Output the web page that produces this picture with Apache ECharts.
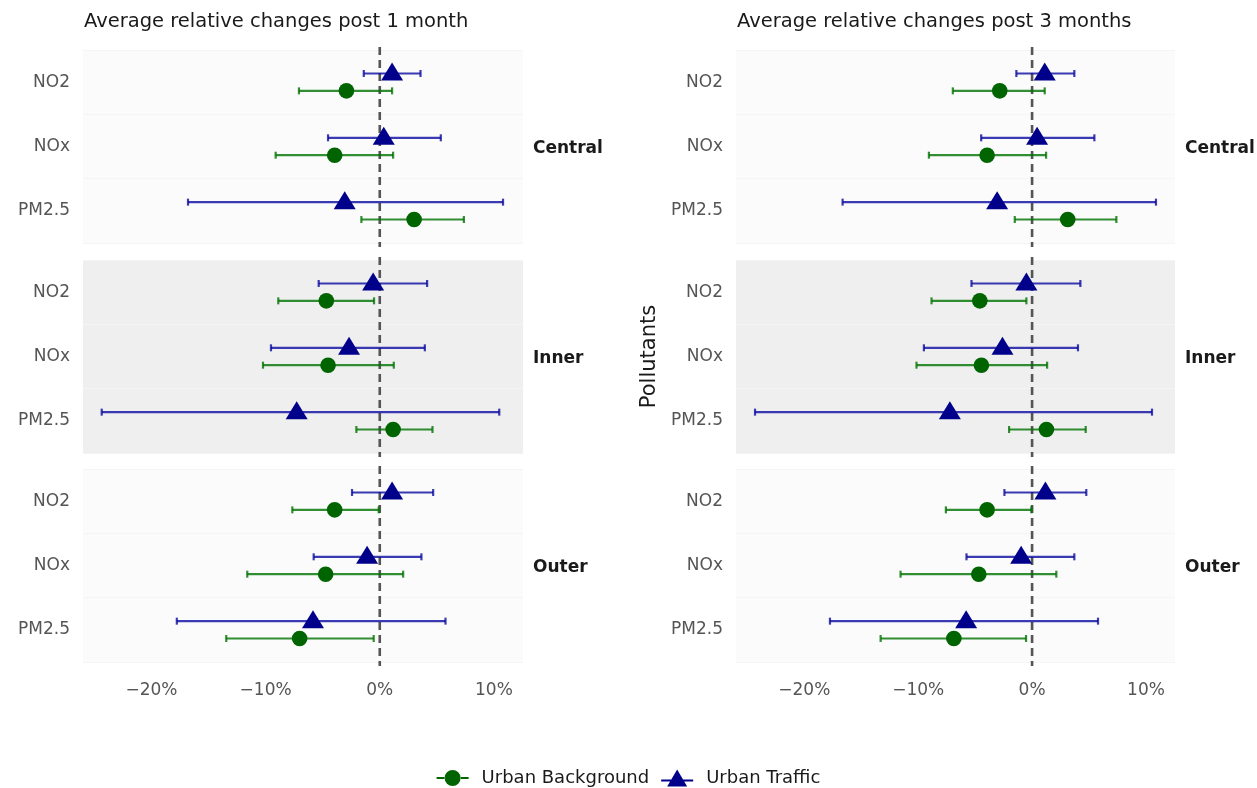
<!DOCTYPE html>
<html>
<head>
<meta charset="utf-8">
<script src="https://cdn.jsdelivr.net/npm/echarts@6/dist/echarts.min.js"></script>
<style>
html,body{margin:0;padding:0;background:#fff;}
#chart{width:1257px;height:788px;}
</style>
</head>
<body>
<div id="chart"></div>
<script>
// ---- Data ----
const pollutants = ['NO2', 'NOx', 'PM2.5'];
const regions = ['Central', 'Inner', 'Outer'];
const panelTitles = ['Average relative changes post 1 month', 'Average relative changes post 3 months'];
const tickValues = [-20, -10, 0, 10];
const refValue = [0];

// 1 month, order: Central(NO2,NOx,PM2.5), Inner(...), Outer(...)
const m1BgEst  = [-2.92, -3.95, 3.01,   -4.68, -4.53, 1.17,   -3.95, -4.74, -7.02];
const m1BgLow  = [-7.08, -9.12, -1.61,  -8.89, -10.23, -2.05, -7.66, -11.61, -13.45];
const m1BgHigh = [1.08, 1.17, 7.37,     -0.50, 1.23, 4.62,    -0.09, 2.05, -0.53];
const m1TrEst  = [1.08, 0.35, -3.07,    -0.58, -2.69, -7.28,  1.08, -1.11, -5.85];
const m1TrLow  = [-1.40, -4.53, -16.80, -5.35, -9.53, -24.36, -2.43, -5.79, -17.78];
const m1TrHigh = [3.57, 5.35, 10.80,    4.15, 3.95, 10.47,    4.68, 3.65, 5.76];

// 3 months
const m3BgEst  = [-2.84, -3.95, 3.13,   -4.59, -4.45, 1.26,   -3.95, -4.68, -6.87];
const m3BgLow  = [-6.96, -9.06, -1.52,  -8.83, -10.15, -2.02, -7.57, -11.55, -13.30];
const m3BgHigh = [1.11, 1.23, 7.40,     -0.50, 1.32, 4.71,    -0.06, 2.13, -0.53];
const m3TrEst  = [1.11, 0.44, -3.07,    -0.50, -2.60, -7.22,  1.17, -0.96, -5.79];
const m3TrLow  = [-1.38, -4.47, -16.64, -5.32, -9.50, -24.33, -2.43, -5.76, -17.75];
const m3TrHigh = [3.71, 5.47, 10.88,    4.24, 4.03, 10.53,    4.76, 3.71, 5.79];

const panels = [
  {bg: [m1BgEst, m1BgLow, m1BgHigh], tr: [m1TrEst, m1TrLow, m1TrHigh]},
  {bg: [m3BgEst, m3BgLow, m3BgHigh], tr: [m3TrEst, m3TrLow, m3TrHigh]}
];

// ---- Layout / style ----
const FONT = 'DejaVu Sans, Liberation Sans, sans-serif';
const GREEN = '#006400', GREEN_BAR = 'rgba(0,115,0,0.8)';
const NAVY = '#00008B', NAVY_BAR = 'rgba(10,10,160,0.8)';
const gridLeft = [83, 736], gridWidth = [440, 439];
const gridTop = [50, 260, 469], gridHeight = 193;
const facetBg = ['#fbfbfb', '#efefef', '#fbfbfb'];

function makeRender(kind) {
  const off = kind === 'tr' ? -0.135 : 0.135;
  return function (params, api) {
    const c = api.value(3);
    const band = api.size([0, 1])[1];
    const dy = off * band;
    const lo = api.coord([api.value(0), c]);
    const hi = api.coord([api.value(1), c]);
    const pt = api.coord([api.value(2), c]);
    const y = lo[1] + dy;
    const barColor = kind === 'tr' ? NAVY_BAR : GREEN_BAR;
    const col = kind === 'tr' ? NAVY : GREEN;
    const ls = {stroke: barColor, lineWidth: 2.2};
    const children = [
      {type: 'line', shape: {x1: lo[0], y1: y, x2: hi[0], y2: y}, style: ls},
      {type: 'line', shape: {x1: lo[0], y1: y - 3.5, x2: lo[0], y2: y + 3.5}, style: ls},
      {type: 'line', shape: {x1: hi[0], y1: y - 3.5, x2: hi[0], y2: y + 3.5}, style: ls}
    ];
    if (kind === 'tr') {
      children.push({type: 'polygon', shape: {points: [[pt[0], y - 11], [pt[0] + 11, y + 7], [pt[0] - 11, y + 7]]}, style: {fill: col}});
    } else {
      children.push({type: 'circle', shape: {cx: pt[0], cy: y, r: 7.8}, style: {fill: col}});
    }
    return {type: 'group', children: children};
  };
}

function renderRef(params, api) {
  const cs = params.coordSys;
  const x = api.coord([api.value(0), 0])[0];
  return {type: 'line', shape: {x1: x, y1: cs.y - 3, x2: x, y2: cs.y + cs.height + 4},
    style: {stroke: '#555555', lineWidth: 2.6, lineDash: [8, 5]}};
}

const grids = [], xAxes = [], yAxes = [], series = [], titles = [];
let gi = 0;
for (let p = 0; p < 2; p++) {
  titles.push({text: panelTitles[p], left: gridLeft[p] - 4, top: 7,
    textStyle: {fontFamily: FONT, fontSize: 19.5, fontWeight: 'normal', color: '#1a1a1a'}});
  for (let f = 0; f < 3; f++) {
    grids.push({left: gridLeft[p], width: gridWidth[p], top: gridTop[f], height: gridHeight,
      show: true, backgroundColor: facetBg[f], borderWidth: 0});
    xAxes.push({type: 'value', gridIndex: gi, min: -26.0, max: 12.55,
      axisLine: {show: false}, axisTick: {show: false}, splitLine: {show: false},
      axisLabel: {show: f === 2, customValues: tickValues, margin: 20,
        color: '#555555', fontSize: 17, fontFamily: FONT,
        formatter: v => (v < 0 ? '\u2212' + Math.abs(v) : v) + '%'}});
    const ya = {type: 'category', gridIndex: gi, data: pollutants, inverse: true,
      axisLine: {show: false}, axisTick: {show: false},
      splitLine: {show: true, lineStyle: {color: f === 1 ? '#f4f4f4' : '#f5f5f5', width: 1}},
      axisLabel: {color: '#555555', fontSize: 17, fontFamily: FONT, margin: 13}};
    if (p === 1 && f === 1) {
      ya.name = 'Pollutants';
      ya.nameLocation = 'middle';
      ya.nameGap = 76;
      ya.nameRotate = 90;
      ya.nameTextStyle = {fontFamily: FONT, fontSize: 21, color: '#1a1a1a'};
    }
    yAxes.push(ya);
    titles.push({text: regions[f], left: gridLeft[p] + gridWidth[p] + 5, top: gridTop[f] + gridHeight / 2 - 11,
      textStyle: {fontFamily: FONT, fontSize: 17, fontWeight: 'bold', color: '#1a1a1a'}});

    const mk = (arr) => pollutants.map((_, k) => {
      const i = f * 3 + k;
      return [arr[1][i], arr[2][i], arr[0][i], k];
    });
    series.push({type: 'custom', xAxisIndex: gi, yAxisIndex: gi, silent: true,
      renderItem: renderRef, data: refValue.map(v => [v]), encode: {x: 0}, z: 2});
    series.push({type: 'custom', name: 'Urban Traffic', xAxisIndex: gi, yAxisIndex: gi,
      renderItem: makeRender('tr'), data: mk(panels[p].tr), encode: {x: [0, 1, 2], y: 3},
      itemStyle: {color: NAVY}, z: 3});
    series.push({type: 'custom', name: 'Urban Background', xAxisIndex: gi, yAxisIndex: gi,
      renderItem: makeRender('bg'), data: mk(panels[p].bg), encode: {x: [0, 1, 2], y: 3},
      itemStyle: {color: GREEN}, z: 4});
    gi++;
  }
}

const chart = echarts.init(document.getElementById('chart'), null, {renderer: 'canvas'});
chart.setOption({
  animation: false,
  backgroundColor: '#ffffff',
  title: titles,
  grid: grids,
  xAxis: xAxes,
  yAxis: yAxes,
  legend: {
    top: 764, left: 'center', itemWidth: 32, itemHeight: 18, itemGap: 12,
    textStyle: {fontFamily: FONT, fontSize: 18, color: '#1a1a1a', padding: [0, 0, 0, 8]},
    data: [
      {name: 'Urban Background', icon: 'path://M0,8h8.5v2h-8.5z M23.5,8h8.5v2h-8.5z M16,1 A8,8 0 1,0 16.01,1 Z', itemStyle: {color: GREEN}},
      {name: 'Urban Traffic', icon: 'path://M0,11h10v2h-10z M22,11h10v2h-10z M16,1 L26,18 L6,18 Z', itemStyle: {color: NAVY}}
    ]
  },
  series: series
});
</script>
</body>
</html>
